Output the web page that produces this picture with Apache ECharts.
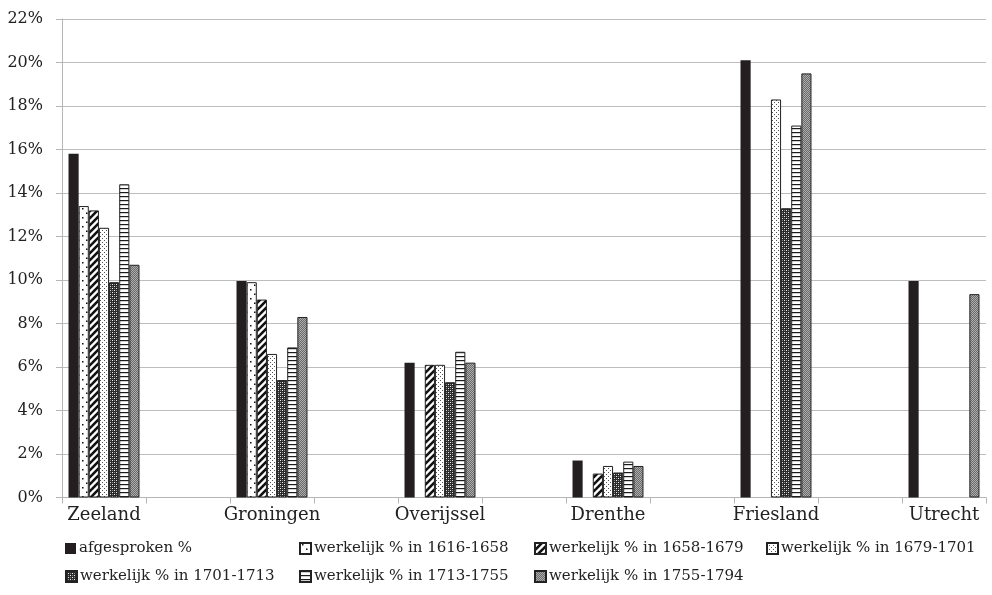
<!DOCTYPE html>
<html>
<head>
<meta charset="utf-8">
<script src="https://cdn.jsdelivr.net/npm/echarts@6/dist/echarts.min.js"></script>
<style>html,body{margin:0;padding:0;background:#fff}#c{width:992px;height:595px}</style>
</head>
<body>
<div id="c"></div>
<script>
// ---- data ----
const categories = ['Zeeland', 'Groningen', 'Overijssel', 'Drenthe', 'Friesland', 'Utrecht'];
const seriesNames = ['afgesproken %', 'werkelijk % in 1616-1658', 'werkelijk % in 1658-1679', 'werkelijk % in 1679-1701', 'werkelijk % in 1701-1713', 'werkelijk % in 1713-1755', 'werkelijk % in 1755-1794'];
const afgesproken = [15.8, 9.95, 6.2, 1.7, 20.1, 9.95];
const w1616 = [13.4, 9.9, null, null, null, null];
const w1658 = [13.2, 9.1, 6.1, 1.1, null, null];
const w1679 = [12.4, 6.6, 6.1, 1.45, 18.3, null];
const w1701 = [9.9, 5.4, 5.3, 1.15, 13.3, null];
const w1713 = [14.4, 6.9, 6.7, 1.65, 17.1, null];
const w1755 = [10.7, 8.3, 6.2, 1.45, 19.5, 9.35];
const yTicks = [0, 2, 4, 6, 8, 10, 12, 14, 16, 18, 20, 22];

// ---- patterns ----
function pat(w, h, draw) {
  const c = document.createElement('canvas'); c.width = w; c.height = h;
  const g = c.getContext('2d'); draw(g, w, h);
  return { image: c, repeat: 'repeat' };
}
const fills = [
  '#231f20',
  pat(8, 9, g => { g.fillStyle = '#fff'; g.fillRect(0, 0, 8, 9); g.fillStyle = '#111'; g.fillRect(2, 1, 1.5, 1.5); g.fillRect(6, 5.5, 1.5, 1.5); }),
  pat(7, 7, g => { g.fillStyle = '#fff'; g.fillRect(0, 0, 7, 7); g.strokeStyle = '#111'; g.lineWidth = 2.6;
    for (let k = -7; k <= 14; k += 7) { g.beginPath(); g.moveTo(k - 1, 8); g.lineTo(k + 8, -1); g.stroke(); } }),
  pat(4, 4, g => { g.fillStyle = '#fff'; g.fillRect(0, 0, 4, 4); g.fillStyle = '#555'; g.fillRect(0, 0, 1, 1); g.fillRect(2, 2, 1, 1); }),
  pat(4, 4, g => { g.fillStyle = '#2a2a2a'; g.fillRect(0, 0, 4, 4); g.fillStyle = '#eee'; g.fillRect(0, 0, 1, 1); g.fillRect(2, 2, 1, 1); g.fillStyle = '#8a8a8a'; g.fillRect(0, 2, 1, 1); g.fillRect(2, 0, 1, 1); }),
  pat(4, 4, g => { g.fillStyle = '#fff'; g.fillRect(0, 0, 4, 4); g.fillStyle = '#1a1a1a'; g.fillRect(0, 0, 4, 1.2); }),
  pat(2, 2, g => { g.fillStyle = '#6c6c6c'; g.fillRect(0, 0, 2, 2); g.fillStyle = '#ababab'; g.fillRect(0, 0, 1, 1); g.fillRect(1, 1, 1, 1); })
];

// ---- build axis slots (category, spacer, category, ...) ----
const slots = [];
categories.forEach((c, i) => { slots.push(c); if (i < categories.length - 1) slots.push('_gap' + i); });
function spread(arr) {
  const out = [];
  arr.forEach((v, i) => { out.push(v); if (i < arr.length - 1) out.push(null); });
  return out;
}
const allValues = [afgesproken, w1616, w1658, w1679, w1701, w1713, w1755];

const font = 'DejaVu Serif';
const series = seriesNames.map((n, i) => ({
  name: n, type: 'bar', data: spread(allValues[i]),
  barGap: '0%', barCategoryGap: '15.5%',
  itemStyle: { color: fills[i], borderColor: i === 0 ? '#231f20' : '#222', borderWidth: i === 0 ? 0 : 1 }
}));

const legendPos = [[65, 541], [299, 541], [534, 541], [766, 541], [65, 569], [299, 569], [534, 569]];
const legends = seriesNames.map((n, i) => ({
  data: [n], left: legendPos[i][0], top: legendPos[i][1], padding: 0,
  itemWidth: 11, itemHeight: 11, selectedMode: false, icon: 'rect',
  textStyle: { fontFamily: font, fontSize: 15, color: '#222', padding: [0, 0, 0, -2] }
}));

const chart = echarts.init(document.getElementById('c'), null, { renderer: 'canvas' });
chart.setOption({
  animation: false,
  backgroundColor: '#fff',
  grid: { left: 62, right: 6, top: 19, bottom: 97.5 },
  legend: legends,
  xAxis: {
    type: 'category', data: slots,
    axisLine: { lineStyle: { color: '#b5b5b5', width: 1 } },
    axisTick: { show: true, interval: 0, length: 6, lineStyle: { color: '#b5b5b5' } },
    axisLabel: { interval: 0, margin: 9, fontFamily: font, fontSize: 18, color: '#222',
      formatter: v => v.startsWith('_gap') ? '' : v }
  },
  yAxis: {
    type: 'value', min: yTicks[0], max: yTicks[yTicks.length - 1], interval: 2,
    axisLine: { show: true, lineStyle: { color: '#b5b5b5', width: 1 } },
    axisTick: { show: true, length: 6, lineStyle: { color: '#b5b5b5' } },
    splitLine: { lineStyle: { color: '#bdbdbd', width: 1 } },
    axisLabel: { margin: 19, fontFamily: font, fontSize: 16, color: '#222', formatter: '{value}%' }
  },
  series: series
});
</script>
</body>
</html>
